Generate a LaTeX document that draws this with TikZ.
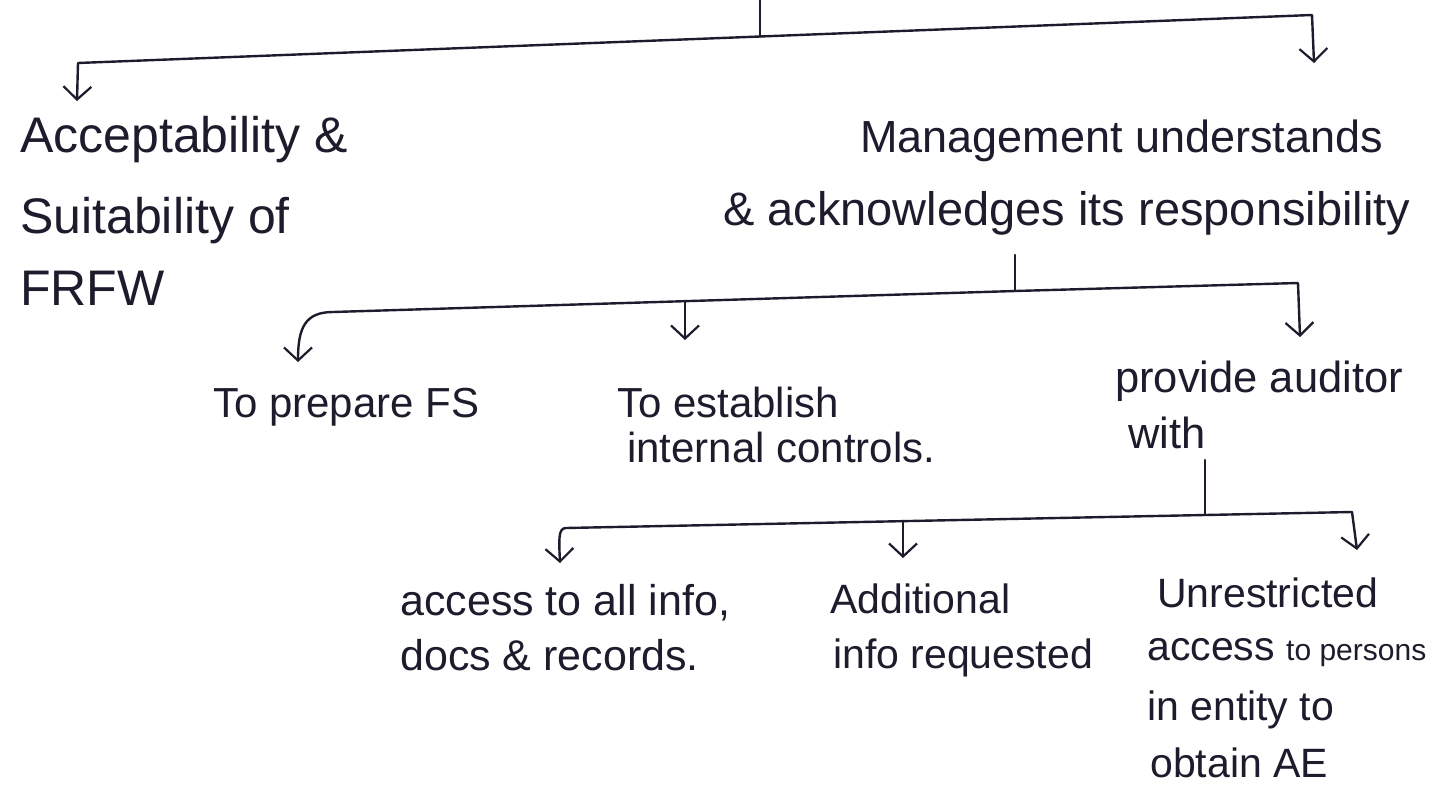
\documentclass[tikz,border=0pt]{standalone}
\usepackage{fontspec}
\setmainfont{Liberation Sans}
\usetikzlibrary{arrows.meta}
\definecolor{ink}{RGB}{28,28,45}
\begin{document}
\begin{tikzpicture}[x=1pt,y=-1pt,
  inkline/.style={draw=ink,line width=2.4pt,line cap=round,line join=round},
  arr/.style={inkline,-{Straight Barb[length=13pt,width=28pt,line width=2.2pt]}},
  lbl/.style={anchor=base west,inner sep=0pt,text=ink},
  bigl/.style={lbl,font=\fontsize{50}{60}\selectfont},
  big/.style={lbl,font=\fontsize{45}{54}\selectfont},
  bigw/.style={lbl,font=\fontsize{47}{56}\selectfont},
  midl/.style={lbl,font=\fontsize{42}{50}\selectfont},
  midw/.style={lbl,font=\fontsize{43.5}{52}\selectfont},
  small/.style={lbl,font=\fontsize{41}{49}\selectfont},
  smallw/.style={lbl,font=\fontsize{43}{51}\selectfont}]
\useasboundingbox (0,0) rectangle (1445,803);

% ---------- texts ----------
\node[bigl] (acc1) at (20,152) {Acceptability \&};
\node[bigl] (acc2) at (20,233) {Suitability of};
\node[bigl] (acc3) at (20,305) {FRFW};
\node[big] (mg1) at (860,152) {Management understands};
\node[bigw] (mg2) at (723,225) {\& acknowledges its responsibility};

\node[midl] (fs) at (213,417) {To prepare FS};
\node[midl] (ic1) at (617,417) {To establish};
\node[midl] (ic2) at (627,462) {internal controls.};
\node[midw] (pa1) at (1115,392) {provide auditor};
\node[midw] (pa2) at (1128,448) {with};

\node[smallw] (b11) at (400,615) {access to all info,};
\node[smallw] (b12) at (400,670) {docs \& records.};
\node[small] (b21) at (830,613) {Additional};
\node[small] (b22) at (833,668) {info requested};
\node[small] (b31) at (1157,607) {Unrestricted};
\node[small] (b32) at (1147,660) {access {\fontsize{30}{36}\selectfont to persons}};
\node[small] (b33) at (1147,720) {in entity to};
\node[small] (b34) at (1150,777) {obtain AE};

% ---------- level 1 ----------
\coordinate (top) at (760,0);
\coordinate (j1) at (760,36.5);
\coordinate (l1L) at (78,63);
\coordinate (l1R) at (1312,15);
\coordinate (a1L) at (77,101);
\coordinate (a1R) at (1314,63);
\draw[inkline] (top) -- (j1);
\draw[arr] (j1) -- (l1L) -- (a1L);
\draw[arr] (j1) -- (l1R) -- (a1R);

% ---------- level 2 ----------
\coordinate (j2top) at (1015,255);
\coordinate (j2) at (1015,291);
\coordinate (l2L) at (333,312);
\coordinate (l2R) at (1298,283);
\coordinate (a2L) at (298,362);
\coordinate (l2M) at (685,301);
\coordinate (a2M) at (685,340);
\coordinate (a2R) at (1300,337);
\draw[inkline] (j2top) -- (j2);
\draw[arr] (j2) -- (l2L) .. controls (305,312) and (298,328) .. (a2L);
\draw[arr] (j2) -- (l2R) -- (a2R);
\draw[arr] (l2M) -- (a2M);

% ---------- level 3 ----------
\coordinate (j3top) at (1205,460);
\coordinate (j3) at (1205,515);
\coordinate (l3L) at (566,528);
\coordinate (l3R) at (1352,512);
\coordinate (a3L) at (560,563);
\coordinate (l3M) at (903,521);
\coordinate (a3M) at (903,558);
\coordinate (a3R) at (1357,550);
\draw[inkline] (j3top) -- (j3);
\draw[arr] (j3) -- (l3L) .. controls (558,528) and (559,540) .. (a3L);
\draw[arr] (j3) -- (l3R) -- (a3R);
\draw[arr] (l3M) -- (a3M);
\end{tikzpicture}
\end{document}
